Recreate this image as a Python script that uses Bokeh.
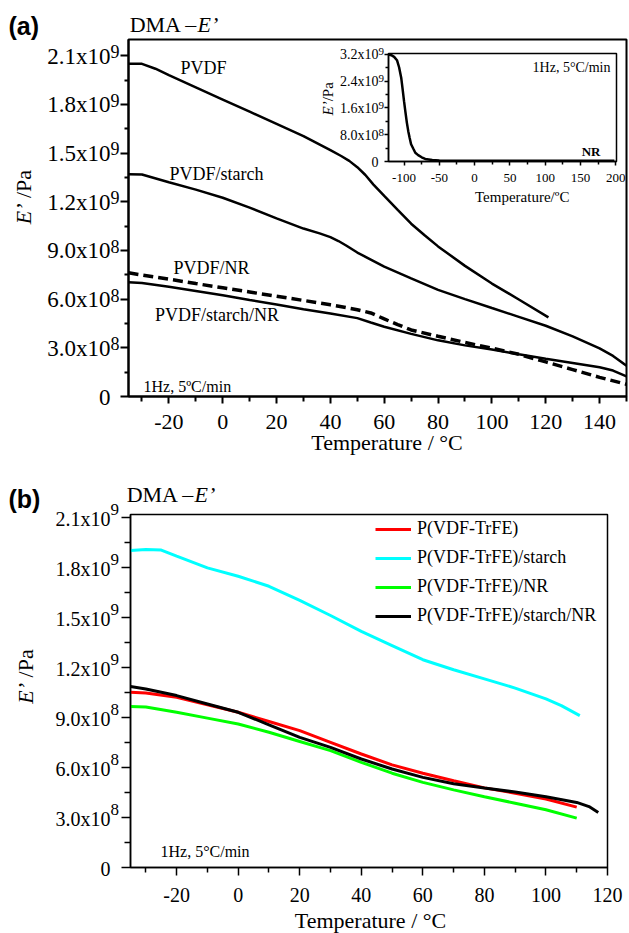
import math
from bokeh.plotting import figure
from bokeh.models import (Range1d, FixedTicker, Label, LabelSet, ColumnDataSource,
                          Legend, LegendItem, GridBox, Column)
from bokeh.core.properties import value
from bokeh.embed import file_html
from bokeh.resources import INLINE

SERIF = "Liberation Serif"
SANS = "Liberation Sans"

# ---------------- panel (a): storage modulus of PVDF blends ----------------
temp_pvdf = [-35, -30, -25, -20, -10, 0, 10, 20, 30, 40, 44, 47, 50, 53, 56, 60, 65, 70, 75, 80, 90, 100,
             110, 121]
e_pvdf = [2.05e9, 2.05e9, 2.02e9, 1.98e9, 1.905e9, 1.83e9, 1.755e9, 1.68e9, 1.605e9, 1.518e9, 1.482e9,
          1.452e9, 1.413e9, 1.365e9, 1.306e9, 1.236e9, 1.15e9, 1.065e9, 0.994e9, 0.925e9, 0.805e9, 0.696e9,
          0.598e9, 0.488e9]

temp_pvdf_starch = [-35, -30, -20, -10, 0, 10, 20, 30, 36, 40, 43, 46, 50, 55, 60, 70, 80, 90, 100, 110, 120,
                    130, 140, 145, 150]
e_pvdf_starch = [1.369e9, 1.368e9, 1.32e9, 1.275e9, 1.225e9, 1.164e9, 1.098e9, 1.035e9, 1.005e9, 0.982e9,
                 0.958e9, 0.929e9, 0.887e9, 0.844e9, 0.80e9, 0.728e9, 0.657e9, 0.60e9, 0.545e9, 0.491e9,
                 0.436e9, 0.37e9, 0.296e9, 0.25e9, 0.19e9]

temp_pvdf_nr = [-35, -30, -20, -10, 0, 10, 20, 30, 40, 50, 55, 60, 65, 70, 80, 90, 100, 110, 120, 130, 140, 150]
e_pvdf_nr = [0.762e9, 0.749e9, 0.723e9, 0.696e9, 0.67e9, 0.644e9, 0.618e9, 0.592e9, 0.565e9, 0.535e9, 0.515e9,
             0.478e9, 0.443e9, 0.41e9, 0.371e9, 0.333e9, 0.298e9, 0.26e9, 0.213e9, 0.166e9, 0.118e9, 0.075e9]

temp_pvdf_starch_nr = [-35, -30, -20, -10, 0, 10, 20, 30, 40, 50, 55, 60, 70, 80, 90, 100, 110, 120, 130, 140,
                       145, 150]
e_pvdf_starch_nr = [0.704e9, 0.70e9, 0.676e9, 0.65e9, 0.624e9, 0.595e9, 0.567e9, 0.538e9, 0.512e9, 0.483e9,
                    0.456e9, 0.43e9, 0.386e9, 0.346e9, 0.315e9, 0.289e9, 0.26e9, 0.232e9, 0.207e9, 0.18e9,
                    0.16e9, 0.124e9]

a_x_ticks = [-20, 0, 20, 40, 60, 80, 100, 120, 140]
a_x_labels = ["-20", "0", "20", "40", "60", "80", "100", "120", "140"]
a_x_minor = [-30, -10, 10, 30, 50, 70, 90, 110, 130, 150]
a_y_ticks = [0, 3e8, 6e8, 9e8, 1.2e9, 1.5e9, 1.8e9, 2.1e9]
a_y_base = ["0", "3.0x10", "6.0x10", "9.0x10", "1.2x10", "1.5x10", "1.8x10", "2.1x10"]
a_y_exp = ["", "8", "8", "8", "9", "9", "9", "9"]
a_y_minor = [1.5e8, 4.5e8, 7.5e8, 1.05e9, 1.35e9, 1.65e9, 1.95e9]

# ---------------- inset: natural rubber ----------------
temp_nr = [-122, -118, -114, -110, -107, -104, -102, -100, -98, -96, -94, -92, -90, -87, -84, -80, -75, -70,
           -60, -50, 0, 50, 100, 150, 198]
e_nr = [3.19e9, 3.17e9, 3.12e9, 3.02e9, 2.81e9, 2.5e9, 2.16e9, 1.8e9, 1.47e9, 1.16e9, 0.905e9, 0.70e9,
        0.513e9, 0.386e9, 0.26e9, 0.19e9, 0.125e9, 0.075e9, 0.045e9, 0.03e9, 0.025e9, 0.022e9, 0.02e9,
        0.02e9, 0.02e9]

in_x_ticks = [-100, -50, 0, 50, 100, 150, 200]
in_x_labels = ["-100", "-50", "0", "50", "100", "150", "200"]
in_x_minor = [-75, -25, 25, 75, 125, 175]
in_y_ticks = [0, 8e8, 1.6e9, 2.4e9, 3.2e9]
in_y_base = ["0", "8.0x10", "1.6x10", "2.4x10", "3.2x10"]
in_y_exp = ["", "8", "9", "9", "9"]
in_y_minor = [4e8, 1.2e9, 2.0e9, 2.8e9]

# ---------------- panel (b): P(VDF-TrFE) blends ----------------
series_b = ["P(VDF-TrFE)", "P(VDF-TrFE)/starch", "P(VDF-TrFE)/NR", "P(VDF-TrFE)/starch/NR"]
colors_b = ["#ff0000", "#00ffff", "#00ff00", "#000000"]

temp_copo = [-35, -30, -20, -10, 0, 10, 20, 30, 40, 50, 60, 70, 80, 90, 100, 110]
e_copo = [1.05e9, 1.045e9, 1.02e9, 0.975e9, 0.93e9, 0.875e9, 0.82e9, 0.75e9, 0.68e9, 0.615e9, 0.565e9,
          0.52e9, 0.477e9, 0.445e9, 0.41e9, 0.362e9]

temp_copo_starch = [-35, -30, -25, -20, -10, 0, 10, 20, 30, 40, 50, 60, 70, 80, 90, 100, 105, 111]
e_copo_starch = [1.90e9, 1.905e9, 1.902e9, 1.866e9, 1.795e9, 1.745e9, 1.685e9, 1.60e9, 1.51e9, 1.415e9,
                 1.33e9, 1.245e9, 1.185e9, 1.13e9, 1.075e9, 1.01e9, 0.97e9, 0.91e9]

temp_copo_nr = [-35, -30, -20, -10, 0, 10, 20, 30, 40, 50, 60, 70, 80, 90, 100, 110]
e_copo_nr = [0.964e9, 0.962e9, 0.93e9, 0.895e9, 0.86e9, 0.81e9, 0.755e9, 0.70e9, 0.63e9, 0.565e9, 0.51e9,
             0.465e9, 0.424e9, 0.385e9, 0.346e9, 0.296e9]

temp_copo_starch_nr = [-35, -30, -20, -10, 0, 10, 20, 30, 40, 50, 60, 70, 80, 90, 100, 110, 114, 117]
e_copo_starch_nr = [1.084e9, 1.07e9, 1.03e9, 0.98e9, 0.93e9, 0.855e9, 0.78e9, 0.72e9, 0.65e9, 0.59e9,
                    0.54e9, 0.502e9, 0.476e9, 0.452e9, 0.424e9, 0.39e9, 0.365e9, 0.33e9]

b_x_ticks = [-20, 0, 20, 40, 60, 80, 100, 120]
b_x_labels = ["-20", "0", "20", "40", "60", "80", "100", "120"]
b_x_minor = [-30, -10, 10, 30, 50, 70, 90, 110]
b_y_ticks = a_y_ticks
b_y_base = a_y_base
b_y_exp = a_y_exp
b_y_minor = a_y_minor


def make_fig(w, h, xr, yr, border, **kw):
    left, right, top, bottom = border
    p = figure(width=w, height=h, x_range=Range1d(*xr), y_range=Range1d(*yr),
               output_backend="svg", toolbar_location=None, title=None,
               min_border_left=left, min_border_right=right, min_border_top=top,
               min_border_bottom=bottom, **kw)
    p.xgrid.visible = False
    p.ygrid.visible = False
    p.background_fill_color = "white"
    return p


def text_layer(p, w, h, border):
    """Transparent full-canvas figure whose scale matches the frame of p, used for
    all the lettering that sits outside p's frame."""
    left, right, top, bottom = border
    x0, x1 = p.x_range.start, p.x_range.end
    y0, y1 = p.y_range.start, p.y_range.end
    kx = (x1 - x0) / (w - left - right)
    ky = (y1 - y0) / (h - top - bottom)
    t = figure(width=w, height=h, x_range=Range1d(x0 - left * kx, x1 + right * kx),
               y_range=Range1d(y0 - bottom * ky, y1 + top * ky),
               x_axis_location=None, y_axis_location=None,
               output_backend="svg", toolbar_location=None, title=None,
               min_border_left=0, min_border_right=0, min_border_top=0, min_border_bottom=0)
    t.grid.visible = False
    t.outline_line_color = None
    t.background_fill_alpha = 0
    t.border_fill_alpha = 0
    return t


def style_axes(p, lw, xt, xlab, xminor, yt, yminor, xfont, standoff, xmaj, xmin, ymaj, ymin):
    p.outline_line_color = "black"
    p.outline_line_width = lw
    xa, ya = p.xaxis[0], p.yaxis[0]
    for ax in (xa, ya):
        ax.axis_line_color = "black"
        ax.axis_line_width = lw
        ax.major_tick_line_color = "black"
        ax.major_tick_line_width = lw
        ax.minor_tick_line_color = "black"
        ax.minor_tick_line_width = lw
        ax.major_tick_in = 0
        ax.minor_tick_in = 0
    xa.ticker = FixedTicker(ticks=xt, minor_ticks=xminor)
    xa.major_label_overrides = {t: s for t, s in zip(xt, xlab)}
    xa.major_label_text_font = SERIF
    xa.major_label_text_font_size = f"{xfont}px"
    xa.major_label_text_color = "black"
    xa.major_label_standoff = standoff
    xa.major_tick_out = xmaj
    xa.minor_tick_out = xmin
    ya.ticker = FixedTicker(ticks=yt, minor_ticks=yminor)
    ya.major_label_overrides = {t: "" for t in yt}
    ya.major_tick_out = ymaj
    ya.minor_tick_out = ymin


def sci_labels(t, x0, ticks, bases, exps, size, exp_size, dx, base_dy, exp_dy):
    n = len(ticks)
    base = ColumnDataSource(dict(x=[x0] * n, y=ticks, text=bases))
    t.add_layout(LabelSet(x="x", y="y", text="text", source=base, x_offset=dx, y_offset=base_dy,
                          text_align="right", text_baseline="alphabetic", text_color="black",
                          text_font=value(SERIF), text_font_size=f"{size}px"))
    sup = ColumnDataSource(dict(x=[x0] * n, y=ticks, text=exps))
    t.add_layout(LabelSet(x="x", y="y", text="text", source=sup, x_offset=dx, y_offset=exp_dy,
                          text_align="left", text_baseline="alphabetic", text_color="black",
                          text_font=value(SERIF), text_font_size=f"{exp_size}px"))


def note(t, x, y, text, dx=0, dy=0, size=20, font=SERIF, style="normal", align="left",
         baseline="alphabetic", angle=0.0):
    # single labels are centred on their em box; dy given for the baseline is shifted up to it
    if baseline == "alphabetic":
        baseline = "middle"
        dy = dy + 0.34 * size
    t.add_layout(Label(x=x, y=y, x_offset=dx, y_offset=dy, text=text, text_font=font,
                       text_font_size=f"{size}px", text_font_style=style, text_align=align,
                       text_baseline=baseline, angle=angle, text_color="black"))


# ======================= panel (a) =======================
A_W, A_H, A_B = 629, 460, (128, 3, 39, 64)
pa = make_fig(A_W, A_H, (-35, 150), (0, 2.2e9), A_B)
style_axes(pa, 2, a_x_ticks, a_x_labels, a_x_minor, a_y_ticks, a_y_minor, 22, 11, 7, 5, 8, 4)

pa.line(temp_pvdf, e_pvdf, line_color="black", line_width=2.5)
pa.line(temp_pvdf_starch, e_pvdf_starch, line_color="black", line_width=2.5)
pa.line(temp_pvdf_nr, e_pvdf_nr, line_color="black", line_width=3.5, line_dash="10 5")
pa.line(temp_pvdf_starch_nr, e_pvdf_starch_nr, line_color="black", line_width=2.5)

ta = text_layer(pa, A_W, A_H, A_B)
ax0, ax1 = pa.x_range.start, pa.x_range.end
ay0, ay1 = pa.y_range.start, pa.y_range.end
sci_labels(ta, ax0, a_y_ticks, a_y_base, a_y_exp, 23, 18, -18, -8, -2.4)
note(ta, ax0, ay1, "(a)", dx=-120, dy=14, size=25, font=SANS, style="bold", baseline="middle")
note(ta, ax0, ay1, "DMA \u2013", dx=69, dy=7.3, size=22, align="right")
note(ta, ax0, ay1, "E\u2019", dx=69, dy=7.3, size=22, style="italic")
note(ta, ax0, ay0, "1Hz, 5\u00baC/min", dx=15, dy=4.3, size=16)
note(ta, (ax0 + ax1) / 2, ay0, "Temperature / \u00b0C", dx=9.5, dy=-53.6, size=22, align="center")
note(ta, ax0, ay0, "E\u2019", dx=-105, dy=193, size=22, style="italic", align="right",
     baseline="middle", angle=math.pi / 2)
note(ta, ax0, ay0, "\u00a0/Pa", dx=-105, dy=193, size=22, align="left", baseline="middle",
     angle=math.pi / 2)
note(ta, -7.1, 1.989e9, "PVDF", size=18, align="center")
note(ta, -2.3, 1.331e9, "PVDF/starch", size=18, align="center")
note(ta, -4.2, 7.56e8, "PVDF/NR", size=18, align="center")
note(ta, -2.1, 4.64e8, "PVDF/starch/NR", size=18, align="center")

# ======================= inset (NR) =======================
I_W, I_H, I_B = 329, 215, (88, 13, 53, 54)
pin = make_fig(I_W, I_H, (-122, 201), (0, 3.22e9), I_B)
pin.border_fill_alpha = 0
style_axes(pin, 1.5, in_x_ticks, in_x_labels, in_x_minor, in_y_ticks, in_y_minor, 13, 8, 4, 3, 4, 3)
pin.line(temp_nr, e_nr, line_color="black", line_width=2.5)

tin = text_layer(pin, I_W, I_H, I_B)
ix0, ix1 = pin.x_range.start, pin.x_range.end
iy0, iy1 = pin.y_range.start, pin.y_range.end
sci_labels(tin, ix0, in_y_ticks, in_y_base, in_y_exp, 14, 11, -10, -5, -1)
note(tin, ix1, iy1, "1Hz, 5\u00b0C/min", dx=-6, dy=-18.7, size=14, align="right")
note(tin, ix1, iy0, "NR", dx=-16, dy=6, size=13, style="bold", align="right")
note(tin, (ix0 + ix1) / 2, iy0, "Temperature/\u00baC", dx=19.7, dy=-40.7, size=15, align="center")
note(tin, ix0, iy0, "E\u2019", dx=-61, dy=60.2, size=15, style="italic", align="right",
     baseline="middle", angle=math.pi / 2)
note(tin, ix0, iy0, "/Pa", dx=-61, dy=60.2, size=15, align="left", baseline="middle",
     angle=math.pi / 2)

# ======================= panel (b) =======================
B_W, B_H, B_B = 629, 473, (130, 22, 54, 66)
pb = make_fig(B_W, B_H, (-35, 120), (0, 2.115e9), B_B)
style_axes(pb, 1.5, b_x_ticks, b_x_labels, b_x_minor, b_y_ticks, b_y_minor, 20, 12, 8, 5, 9, 6)

curves_b = [(temp_copo, e_copo), (temp_copo_starch, e_copo_starch),
            (temp_copo_nr, e_copo_nr), (temp_copo_starch_nr, e_copo_starch_nr)]
items = []
for name, color, (tx, ey) in zip(series_b, colors_b, curves_b):
    r = pb.line(tx, ey, line_color=color, line_width=3)
    items.append(LegendItem(label=name, renderers=[r]))

legend = Legend(items=items, location=(245, 241), orientation="vertical",
                glyph_width=36, glyph_height=20, label_height=20, label_standoff=6, spacing=8,
                padding=0, margin=0, border_line_color=None, background_fill_alpha=0,
                label_text_font=SERIF, label_text_font_size="18px", label_text_color="black")
pb.add_layout(legend)

tb = text_layer(pb, B_W, B_H, B_B)
bx0, bx1 = pb.x_range.start, pb.x_range.end
by0, by1 = pb.y_range.start, pb.y_range.end
sci_labels(tb, bx0, b_y_ticks, b_y_base, b_y_exp, 20, 17, -20, -8.5, 2.5)
note(tb, bx0, by1, "(b)", dx=-122, dy=16, size=25, font=SANS, style="bold", baseline="middle")
note(tb, bx0, by1, "DMA \u2013", dx=64, dy=12.3, size=22, align="right")
note(tb, bx0, by1, "E\u2019", dx=64, dy=12.3, size=22, style="italic")
note(tb, bx0, by0, "1Hz, 5\u00b0C/min", dx=30, dy=10.3, size=16)
note(tb, (bx0 + bx1) / 2, by0, "Temperature / \u00b0C", dx=1.5, dy=-60, size=22, align="center")
note(tb, bx0, by0, "E\u2019", dx=-105, dy=184.6, size=22, style="italic", align="right",
     baseline="middle", angle=math.pi / 2)
note(tb, bx0, by0, "\u00a0/Pa", dx=-105, dy=184.6, size=22, align="left", baseline="middle",
     angle=math.pi / 2)


def boxed(fig, margin=None):
    # each figure sits in its own column so the grid does not line up their frames
    return Column(children=[fig], margin=margin)


page = GridBox(children=[
    (boxed(pa), 0, 0),
    (boxed(ta), 0, 0),
    (boxed(pin, (0, 0, 0, 300)), 0, 0),
    (boxed(tin, (0, 0, 0, 300)), 0, 0),
    (boxed(pb), 1, 0),
    (boxed(tb), 1, 0),
])

with open("out.html", "w") as f:
    f.write(file_html(page, INLINE))
